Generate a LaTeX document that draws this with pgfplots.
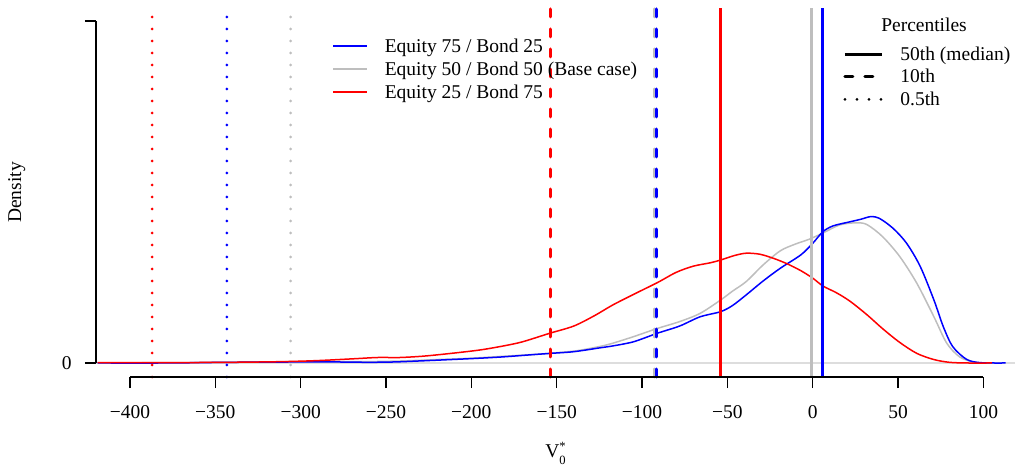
\documentclass[border=0pt]{standalone}
\usepackage{pgfplots}
\pgfplotsset{compat=1.18}
\usepackage{amsmath}
\usepackage{fontspec}
\setmainfont{Liberation Serif}
\definecolor{cgray}{RGB}{190,190,190}
\definecolor{zgray}{RGB}{221,221,221}
\definecolor{cblue}{RGB}{0,0,255}
\definecolor{cred}{RGB}{255,0,0}
\pgfplotsset{
  dens/.style={line width=0.75pt, smooth, tension=0.5, forget plot},
  vsolid/.style={line width=1.5pt, forget plot},
  vdash/.style={line width=1.5pt, line cap=round, dash pattern=on 4pt off 6pt, forget plot},
  vdot/.style={line width=1.5pt, line cap=round, dash pattern=on 0pt off 6pt, forget plot},
}
\begin{document}
\fontsize{9.75}{11.5}\selectfont
\begin{tikzpicture}
\useasboundingbox (-48pt,-44pt) rectangle (460pt,188.5pt);
\begin{axis}[
  at={(0pt,0pt)}, anchor=south west,
  scale only axis, width=459.5pt, height=184.5pt,
  xmin=-419.9, xmax=118.5, ymin=-0.041, ymax=1.038,
  axis lines*=left, axis line style={draw=none},
  clip=false,
  xtick={-400,-350,...,100},
  xticklabels={−400,−350,−300,−250,−200,−150,−100,−50,0,50,100},
  ytick={0,1}, yticklabels={0,{}},
  tick align=outside, major tick length=5.5pt,
  tick style={black, line width=0.75pt},
  xticklabel style={anchor=base, yshift=-15pt, inner sep=0pt},
  yticklabel style={anchor=east, xshift=-6.5pt, inner sep=0pt},
  xlabel={V\makebox[0pt][l]{\raisebox{3.8pt}{\fontsize{6.3}{6.3}\selectfont *}}\raisebox{-3.4pt}{\fontsize{6.3}{6.3}\selectfont 0}},
  xlabel style={at={(axis description cs:0.5,-0.2195)}, anchor=base, inner sep=0pt},
  ylabel={Density},
  ylabel style={at={(axis description cs:-0.0816,0.5)}, anchor=base, inner sep=0pt},
  legend cell align=left,
  legend image code/.code={\draw[#1] (0pt,0pt) -- (17pt,0pt); \path (25.5pt,0pt);},
  legend style={draw=none, fill=none, inner sep=0pt, at={(axis cs:-281.7,0.954)}, anchor=north west,
    row sep=2.5pt, nodes={inner sep=0pt, text height=7.5pt, text depth=1.5pt}},
]
\addlegendimage{cblue, line width=0.75pt}\addlegendentry{Equity 75 / Bond 25}
\addlegendimage{cgray, line width=0.75pt}\addlegendentry{Equity 50 / Bond 50 (Base case)}
\addlegendimage{cred, line width=0.75pt}\addlegendentry{Equity 25 / Bond 75}

% zero line
\addplot[zgray, line width=1pt, forget plot] coordinates {(-419.9,0) (118.5,0)};

% Equity 50 / Bond 50
\addplot[cgray, dens] coordinates {
(-419,0.0) (-380,0.001) (-340,0.002) (-300,0.004) (-280,0.004) (-260,0.004) (-240,0.006)
(-220,0.010) (-200,0.014) (-180,0.020) (-160,0.026) (-150,0.030) (-138,0.036) (-125,0.048)
(-117,0.058) (-105,0.077) (-91,0.101) (-78,0.121) (-66,0.145) (-54,0.184) (-47,0.210)
(-39,0.238) (-29,0.287) (-19,0.328) (-10,0.348) (-2,0.362) (6,0.380) (16,0.404) (26,0.410)
(32,0.404) (41,0.369) (51,0.311) (61,0.233) (71,0.135) (78.5,0.058) (86,0.018) (94,0.003)
(100,0.0) (110,0.0)};

% Equity 75 / Bond 25
\addplot[cblue, dens] coordinates {
(-419,0.0) (-380,0.0) (-340,0.002) (-300,0.003) (-280,0.003) (-260,0.002) (-245,0.003)
(-230,0.006) (-212,0.010) (-195,0.014) (-181,0.018) (-165,0.024) (-154,0.028) (-140,0.033)
(-125,0.044) (-117,0.050) (-105,0.062) (-91,0.087) (-78,0.108) (-66,0.135) (-54,0.150)
(-47,0.168) (-39,0.199) (-29,0.240) (-19,0.277) (-7,0.316) (0,0.350) (6,0.384) (12,0.401)
(22,0.413) (28,0.420) (34,0.428) (39,0.423) (47,0.394) (55,0.350) (63,0.282) (71,0.184)
(76.5,0.106) (82,0.048) (90,0.011) (98,0.001) (113,0.0)};

% Equity 25 / Bond 75
\addplot[cred, dens] coordinates {
(-419,0.001) (-380,0.001) (-340,0.002) (-310,0.004) (-290,0.007) (-270,0.012) (-255,0.016)
(-242,0.016) (-228,0.020) (-212,0.028) (-195,0.038) (-181,0.050) (-170,0.062) (-154,0.087)
(-140,0.108) (-128,0.138) (-117,0.170) (-104,0.203) (-91,0.235) (-80,0.265) (-70,0.283)
(-60,0.293) (-54,0.301) (-46,0.314) (-39,0.321) (-31,0.318) (-23,0.306) (-15,0.290)
(-7,0.270) (0,0.248) (6,0.225) (14,0.205) (22,0.180) (32,0.140) (41,0.100) (51,0.060)
(61,0.028) (71,0.010) (80,0.002) (90,0.0) (105,0.0)};

% 0.5th percentiles
\addplot[cgray, vdot] coordinates {(-305.9,-0.041) (-305.9,1.038)};
\addplot[cblue, vdot] coordinates {(-343.2,-0.041) (-343.2,1.038)};
\addplot[cred, vdot] coordinates {(-387.0,-0.041) (-387.0,1.038)};
% 10th percentiles
\addplot[cgray, vdash] coordinates {(-92.5,-0.041) (-92.5,1.038)};
\addplot[cblue, vdash] coordinates {(-91.8,-0.041) (-91.8,1.038)};
\addplot[cred, vdash] coordinates {(-153.9,-0.041) (-153.9,1.038)};
% medians
\addplot[cgray, vsolid] coordinates {(-0.6,-0.041) (-0.6,1.038)};
\addplot[cblue, vsolid] coordinates {(5.9,-0.041) (5.9,1.038)};
\addplot[cred, vsolid] coordinates {(-53.9,-0.041) (-53.9,1.038)};

% R-style axis lines
\draw[black, line width=0.75pt] (axis cs:-400,-0.041) -- (axis cs:100,-0.041);
\draw[black, line width=0.75pt] (axis cs:-419.9,0) -- (axis cs:-419.9,1);

\node[anchor=base, inner sep=0pt] at (axis cs:65.2,0.969) {Percentiles};
\end{axis}

\begin{axis}[
  at={(0pt,0pt)}, anchor=south west,
  scale only axis, width=459.5pt, height=184.5pt,
  xmin=-419.9, xmax=118.5, ymin=-0.041, ymax=1.038,
  hide axis,
  legend cell align=left,
  legend image code/.code={\draw[#1] (0pt,0pt) -- (18.5pt,0pt); \path (27pt,0pt);},
  legend style={draw=none, fill=none, inner sep=0pt, at={(axis cs:17.75,0.930)}, anchor=north west,
    row sep=2.25pt, nodes={inner sep=0pt, text height=7.5pt, text depth=1.5pt}},
]
\addlegendimage{black, line width=1.5pt}\addlegendentry{50th (median)}
\addlegendimage{black, line width=1.5pt, line cap=round, dash pattern=on 4pt off 6pt}\addlegendentry{10th}
\addlegendimage{black, line width=1.5pt, line cap=round, dash pattern=on 0pt off 6pt}\addlegendentry{0.5th}
\end{axis}
\end{tikzpicture}
\end{document}
